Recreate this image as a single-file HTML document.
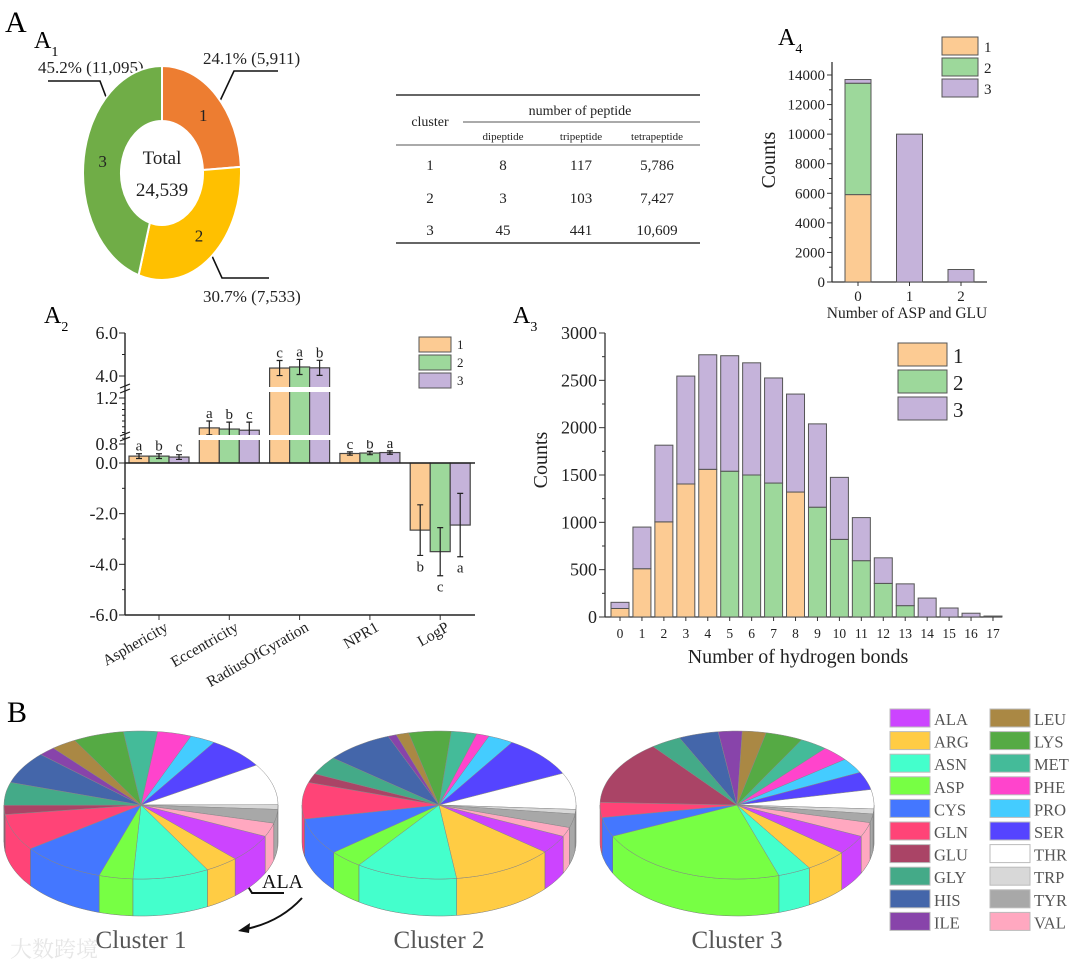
<!DOCTYPE html>
<html><head><meta charset="utf-8"><style>
html,body{margin:0;padding:0;background:#fff;}
svg{display:block;font-family:"Liberation Serif","Noto Serif CJK SC",serif;}
</style></head><body>
<svg id="fig" width="1080" height="972" viewBox="0 0 1080 972" xmlns="http://www.w3.org/2000/svg">
<g id="static">
<text x="5" y="32" font-size="30">A</text>
<text x="34" y="48" font-size="24">A<tspan font-size="14" dy="8">1</tspan></text>
<text x="778" y="45" font-size="24">A<tspan font-size="14" dy="8">4</tspan></text>
<text x="44" y="323" font-size="24">A<tspan font-size="14" dy="8">2</tspan></text>
<text x="513" y="323" font-size="24">A<tspan font-size="14" dy="8">3</tspan></text>
<text x="7" y="722" font-size="30">B</text>
<!-- table -->
<g font-size="13" text-anchor="middle" fill="#222">
<line x1="396" y1="95" x2="700" y2="95" stroke="#333" stroke-width="1.6"/>
<line x1="463" y1="122" x2="700" y2="122" stroke="#555" stroke-width="1"/>
<line x1="396" y1="145" x2="700" y2="145" stroke="#555" stroke-width="1"/>
<line x1="396" y1="243" x2="700" y2="243" stroke="#333" stroke-width="1.6"/>
<text x="430" y="126" font-size="14">cluster</text>
<text x="580" y="115" font-size="14">number of peptide</text>
<text x="503" y="140" font-size="11">dipeptide</text>
<text x="581" y="140" font-size="11">tripeptide</text>
<text x="657" y="140" font-size="11">tetrapeptide</text>
<text x="430" y="170" font-size="15">1</text><text x="503" y="170" font-size="15">8</text><text x="581" y="170" font-size="15">117</text><text x="657" y="170" font-size="15">5,786</text>
<text x="430" y="203" font-size="15">2</text><text x="503" y="203" font-size="15">3</text><text x="581" y="203" font-size="15">103</text><text x="657" y="203" font-size="15">7,427</text>
<text x="430" y="235" font-size="15">3</text><text x="503" y="235" font-size="15">45</text><text x="581" y="235" font-size="15">441</text><text x="657" y="235" font-size="15">10,609</text>
</g>
<!-- donut annotations -->
<g font-size="17" fill="#222">
<text x="38" y="73">45.2% (11,095)</text>
<text x="203" y="64">24.1% (5,911)</text>
<text x="203" y="302">30.7% (7,533)</text>
<polyline points="48,81 100,81 114,118" fill="none" stroke="#111" stroke-width="1.6"/>
<polyline points="278,71 234,71 212,118" fill="none" stroke="#111" stroke-width="1.6"/>
<polyline points="207,245 222,278 269,278" fill="none" stroke="#111" stroke-width="1.6"/>
</g>
<!-- ALA annotation -->
<g>
<text x="262" y="888" font-size="20" fill="#111">ALA</text>
<polyline points="241,875 252,893 284,893" fill="none" stroke="#111" stroke-width="2"/>
<path d="M302,898 Q280,922 246,929" fill="none" stroke="#111" stroke-width="2"/>
<polygon points="238,931 250,923 249,933" fill="#111"/>
</g>
<text x="10" y="957" font-size="22" fill="#e6e6e6">大数跨境</text>
</g>
<g id="dyn"></g>
</svg>
<script>
// ===== A1 donut =====
const donutLabels = ['1','2','3'];
const donutValues = [5911, 7533, 11095];
// ===== A4 =====
const a4Cats = ['0','1','2'];
const a4C1 = [5911, 0, 0];
const a4C2 = [7533, 0, 0];
const a4C3 = [250, 10000, 845];
const a4Ticks = [0,2000,4000,6000,8000,10000,12000,14000];
// ===== A3 =====
const a3Cats = ['0','1','2','3','4','5','6','7','8','9','10','11','12','13','14','15','16','17'];
const a3C1 = [90,510,1005,1405,1560,0,0,0,1320,0,0,0,0,0,0,0,0,0];
const a3C2 = [0,0,0,0,0,1540,1500,1415,0,1160,820,595,355,120,0,0,0,0];
const a3C3 = [65,440,810,1140,1210,1220,1185,1110,1035,880,655,455,270,230,200,95,40,10];
const a3Ticks = [0,500,1000,1500,2000,2500,3000];
// ===== A2 =====
const a2Cats = ['Asphericity','Eccentricity','RadiusOfGyration','NPR1','LogP'];
const a2C1 = [0.29, 0.94, 4.37, 0.40, -2.65];
const a2C2 = [0.29, 0.93, 4.42, 0.42, -3.5];
const a2C3 = [0.25, 0.92, 4.38, 0.44, -2.45];
const a2E1 = [0.1, 0.06, 0.35, 0.07, 1.0];
const a2E2 = [0.1, 0.06, 0.35, 0.07, 0.95];
const a2E3 = [0.1, 0.07, 0.35, 0.07, 1.25];
const a2L1 = ['a','a','c','c','b'];
const a2L2 = ['b','b','a','b','c'];
const a2L3 = ['c','c','b','a','a'];
const a2Ticks = ['6.0','4.0','1.2','0.8','0.0','-2.0','-4.0','-6.0'];
// ===== B 3D pies =====
const aminoNames = ['ALA','ARG','ASN','ASP','CYS','GLN','GLU','GLY','HIS','ILE','LEU','LYS','MET','PHE','PRO','SER','THR','TRP','TYR','VAL'];
const cluster1Pct = [6,4,9,4,10,8,2,5,7,2,3,6,4,4,3,7,9,1,3,3];
const cluster2Pct = [4,12,12,4,8,8,2,4,8,1,1.5,5,3,1.5,3,9,8,1,3,2];
const cluster3Pct = [4.2,5,3.9,23,4.2,3.3,13.9,3.6,4.7,2.8,2.8,4.4,3.3,3.3,3.3,3.9,4.2,1.1,1.9,3.1];
const pieTitles = ['Cluster 1','Cluster 2','Cluster 3'];

const NS='http://www.w3.org/2000/svg';
const dyn=document.getElementById('dyn');
function mk(tag,attrs,parent){const e=document.createElementNS(NS,tag);for(const k in attrs)e.setAttribute(k,attrs[k]);(parent||dyn).appendChild(e);return e;}
function txt(x,y,s,size,parent,extra){const e=mk('text',Object.assign({x:x,y:y,'font-size':size,fill:'#222'},extra||{}),parent);e.textContent=s;return e;}
const C1='#FCCB93',C2='#9DD89B',C3='#C5B3DA',STK='#3a3a3a';

// ---- A1 donut ----
(function(){
  const g=mk('g',{});
  
  
  const cx=162,cy=173,rx=79,ry=107,irx=41,iry=52;
  const cols=['#ED7D31','#FFC000','#70AD47'];
  const tot=donutValues.reduce((a,b)=>a+b,0);
  let a=-Math.PI/2;
  donutValues.forEach((v,i)=>{
    const b=a+v/tot*2*Math.PI;
    const pt=(r1,r2,t)=>[cx+r1*Math.cos(t),cy+r2*Math.sin(t)];
    const large=(b-a)>Math.PI?1:0;
    const p1=pt(rx,ry,a),p2=pt(rx,ry,b),p3=pt(irx,iry,b),p4=pt(irx,iry,a);
    const d=`M${p1}A${rx},${ry} 0 ${large} 1 ${p2}L${p3}A${irx},${iry} 0 ${large} 0 ${p4}Z`;
    const p=mk('path',{d:d,fill:cols[i],stroke:'#fff','stroke-width':2},g);
    
    
    const m=(a+b)/2, lp=pt((rx+irx)/2,(ry+iry)/2,m);
    const t=txt(lp[0],lp[1]+6,donutLabels[i],17,g,{'text-anchor':'middle'});
    
    
    a=b;
  });
  const t1=txt(cx,164,'Total',19,g,{'text-anchor':'middle'});
  
  
  const t2=txt(cx,196,tot.toLocaleString('en-US'),19,g,{'text-anchor':'middle'});
  
  
})();

function legend(g,x,y,w,h,gap,size,labels){
  [C1,C2,C3].forEach((c,i)=>{
    const r=mk('rect',{x:x,y:y+i*gap,width:w,height:h,fill:c,stroke:'#555','stroke-width':1},g);
    
    
    const t=txt(x+w+6,y+i*gap+h-3,labels[i],size,g);
    
    
  });
}

// ---- A4 ----
(function(){
  const g=mk('g',{});
  
  
  const x0=832,x1=987,y0=282,yTop=75,vmax=14000;
  const Y=v=>y0-(v/vmax)*(y0-yTop);
  const X=i=>858+i*51.5;
  mk('line',{x1:x0,y1:y0,x2:x1,y2:y0,stroke:'#333','stroke-width':1.3},g);
  mk('line',{x1:x0,y1:y0,x2:x0,y2:62,stroke:'#333','stroke-width':1.3},g);
  a4Ticks.forEach(v=>{mk('line',{x1:x0-5,y1:Y(v),x2:x0,y2:Y(v),stroke:'#333'},g);
    if(v<vmax) mk('line',{x1:x0-3,y1:Y(v+1000),x2:x0,y2:Y(v+1000),stroke:'#333'},g);
    const t=txt(x0-7,Y(v)+5,String(v),15,g,{'text-anchor':'end'});
    
    });
  a4Cats.forEach((c,i)=>{
    let base=0;
    [[a4C1,C1],[a4C2,C2],[a4C3,C3]].forEach(([arr,col],k)=>{
      const v=arr[i]; if(v<=0) return;
      const r=mk('rect',{x:X(i)-13,y:Y(base+v),width:26,height:Y(base)-Y(base+v),fill:col,stroke:'#555','stroke-width':1},g);
      
      
      base+=v;});
    mk('line',{x1:X(i),y1:y0,x2:X(i),y2:y0+4,stroke:'#333'},g);
    const t=txt(X(i),y0+19,c,15,g,{'text-anchor':'middle'});
    
    
  });
  const xt=txt(907,318,'Number of ASP and GLU',15.5,g,{'text-anchor':'middle'});
  
  
  const yt=txt(0,0,'Counts',20,g,{'text-anchor':'middle',transform:'translate(775,160) rotate(-90)'});
  
  
  legend(g,942,37,36,18,21,15,['1','2','3']);
})();

// ---- A3 ----
(function(){
  const g=mk('g',{});
  
  
  const x0=605,x1=1002,y0=617,yTop=333,vmax=3000;
  const Y=v=>y0-(v/vmax)*(y0-yTop);
  const X=i=>620+i*21.94;
  mk('line',{x1:x0,y1:y0,x2:x1,y2:y0,stroke:'#333','stroke-width':1.3},g);
  mk('line',{x1:x0,y1:y0,x2:x0,y2:yTop,stroke:'#333','stroke-width':1.3},g);
  a3Ticks.forEach(v=>{mk('line',{x1:x0-6,y1:Y(v),x2:x0,y2:Y(v),stroke:'#333'},g);
    if(v<vmax) mk('line',{x1:x0-3,y1:Y(v+250),x2:x0,y2:Y(v+250),stroke:'#333'},g);
    const t=txt(x0-8,Y(v)+6,String(v),18,g,{'text-anchor':'end'});
    
    });
  a3Cats.forEach((c,i)=>{
    let base=0;
    [[a3C1,C1],[a3C2,C2],[a3C3,C3]].forEach(([arr,col],k)=>{
      const v=arr[i]; if(v<=0) return;
      const r=mk('rect',{x:X(i)-9,y:Y(base+v),width:18,height:Y(base)-Y(base+v),fill:col,stroke:'#555','stroke-width':1},g);
      
      
      base+=v;});
    mk('line',{x1:X(i),y1:y0,x2:X(i),y2:y0+4,stroke:'#333'},g);
    const t=txt(X(i),y0+21,c,13.5,g,{'text-anchor':'middle'});
    
    
  });
  const xt=txt(798,663,'Number of hydrogen bonds',20,g,{'text-anchor':'middle'});
  
  
  const yt=txt(0,0,'Counts',20,g,{'text-anchor':'middle',transform:'translate(547,460) rotate(-90)'});
  
  
  legend(g,898,343,49,23,27,21,['1','2','3']);
})();

// ---- A2 ----
(function(){
  const g=mk('g',{});
  
  
  const x0=125,x1=475,y0=463;
  function Y(v){
    if(v<0) return y0+(-v)*25.33;
    if(v<=0.8) return y0-v/0.8*19;
    if(v<=1.2) return 444-(v-0.8)/0.4*46;
    if(v<=4) return 398-(v-1.2)/2.8*22;
    return 376-(v-4)/2*43;
  }
  const tickVals=a2Ticks.map(Number);
  const gx=i=>159+i*70.3;
  const series=[[a2C1,a2E1,a2L1,C1],[a2C2,a2E2,a2L2,C2],[a2C3,a2E3,a2L3,C3]];
  a2Cats.forEach((c,i)=>{
    series.forEach(([vals,errs,labs,col],k)=>{
      const v=vals[i],bx=gx(i)+(k-1)*20-10;
      const yt=Y(v),yb=y0;
      const r=mk('rect',{x:bx,y:Math.min(yt,yb),width:20,height:Math.abs(yb-yt),fill:col,stroke:'#444','stroke-width':1.2},g);
      
      
      const cxb=bx+10,e1=Y(v+errs[i]),e2=Y(v-errs[i]);
      const eb=mk('path',{d:`M${cxb},${e1}V${e2}M${cxb-3},${e1}H${cxb+3}M${cxb-3},${e2}H${cxb+3}`,stroke:'#222','stroke-width':1.2,fill:'none'},g);
      
      
      const ly=v>=0?Math.min(e1,e2)-3:Math.max(e1,e2)+16;
      const lt=txt(cxb,ly,labs[i],15,g,{'text-anchor':'middle'});
      
      
    });
    mk('line',{x1:gx(i),y1:615,x2:gx(i),y2:620,stroke:'#333'},g);
    const t=txt(0,0,c,15.5,g,{'text-anchor':'end',transform:`translate(${gx(i)+10},630) rotate(-30)`});
    
    
  });
  // break bands
  mk('rect',{x:x0+2,y:435,width:x1-x0,height:5,fill:'#fff'},g);
  mk('rect',{x:x0+2,y:387,width:x1-x0,height:5,fill:'#fff'},g);
  // axes
  mk('line',{x1:x0,y1:y0,x2:x1,y2:y0,stroke:'#222','stroke-width':1.4},g);
  mk('line',{x1:x0,y1:615,x2:x1,y2:615,stroke:'#222','stroke-width':1.4},g);
  mk('path',{d:`M${x0},333V434M${x0},441V386M${x0},393V615`,stroke:'#222','stroke-width':1.4,fill:'none'},g);
  mk('path',{d:`M${x0-5},436l10,-4M${x0-5},441l10,-4M${x0-5},388l10,-4M${x0-5},393l10,-4`,stroke:'#222','stroke-width':1.2},g);
  for(let v=0.85;v<1.2;v+=0.05){mk('line',{x1:x0-3,y1:Y(v),x2:x0,y2:Y(v),stroke:'#222'},g);}
  [5,-1,-3,-5].forEach(v=>mk('line',{x1:x0-3,y1:Y(v),x2:x0,y2:Y(v),stroke:'#222'},g));
  a2Ticks.forEach((s,i)=>{const y=Y(tickVals[i]);
    mk('line',{x1:x0-6,y1:y,x2:x0,y2:y,stroke:'#222'},g);
    const t=txt(x0-7,y+6,s,18,g,{'text-anchor':'end'});
    
    });
  legend(g,419,337,32,15,18,13,['1','2','3']);
})();

// ---- B pies ----
(function(){
  const cols=['#CC44FF','#FFCC44','#44FFCC','#77FF44','#4477FF','#FF4477','#AA4466','#44AA88','#4466AA','#8844AA','#AA8844','#55AA44','#44BB99','#FF44CC','#44CCFF','#5544FF','#FFFFFF','#D8D8D8','#A8A8A8','#FFA8C0'];
  const data=[cluster1Pct,cluster2Pct,cluster3Pct];
  const centers=[141,439,737],cy=805,rx=137,ry=74,dep=37,start=25*Math.PI/180;
  data.forEach((pct,pi)=>{
    const g=mk('g',{});
    
    
    const cx=centers[pi];
    const tot=pct.reduce((a,b)=>a+b,0);
    const P=(t,dy)=>(cx+rx*Math.cos(t)).toFixed(1)+','+(cy+ry*Math.sin(t)+(dy||0)).toFixed(1);
    let a=start;const segs=[];
    pct.forEach((v,i)=>{const b=a+v/tot*2*Math.PI;segs.push([a,b,i]);a=b;});
    // sides
    segs.forEach(([a,b,i])=>{
      for(let off=-2*Math.PI;off<=2*Math.PI;off+=2*Math.PI){
        const s=Math.max(a+off,0),e=Math.min(b+off,Math.PI);
        if(e<=s) continue;
        const n=Math.max(2,Math.ceil((e-s)/0.05));let top=[],bot=[];
        for(let k=0;k<=n;k++){const t=s+(e-s)*k/n;top.push(P(t));bot.unshift(P(t,dep));}
        const p=mk('path',{d:'M'+top.join('L')+'L'+bot.join('L')+'Z',fill:cols[i],stroke:'#777','stroke-width':0.5},g);
        
        
      }
    });
    segs.forEach(([a,b,i])=>{
      const n=Math.max(2,Math.ceil((b-a)/0.04));let pts=[];
      for(let k=0;k<=n;k++) pts.push(P(a+(b-a)*k/n));
      const p=mk('path',{d:`M${cx},${cy}L`+pts.join('L')+'Z',fill:cols[i],stroke:'#888','stroke-width':0.5},g);
      
      
    });
    const t=txt(cx,948,pieTitles[pi],25,g,{'text-anchor':'middle',fill:'#555'});
    
    
  });
  const lg=mk('g',{});
  
  
  aminoNames.forEach((nm,i)=>{
    const col=Math.floor(i/10),row=i%10;
    const x=col?990:890,y=709+row*22.6;
    const r=mk('rect',{x:x,y:y,width:40,height:18,fill:cols[i],stroke:'#bbb','stroke-width':1},lg);
    
    
    const t=txt(x+44,y+16,nm,16.5,lg,{fill:'#555'});
    
    
  });
})();
</script>
</body></html>
